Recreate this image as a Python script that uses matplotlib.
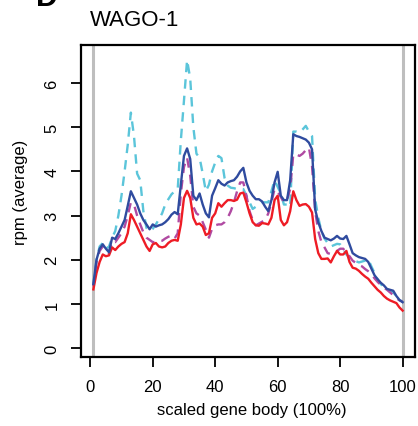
import matplotlib.pyplot as plt
import numpy as np

plt.rcParams['font.family'] = ['Liberation Sans', 'DejaVu Sans']

# scaled gene body position (1..100)
pos = np.arange(1, 101)

# average rpm per sample
blue = [1.45, 2.0, 2.25, 2.35, 2.25, 2.17, 2.5, 2.47, 2.6, 2.75,
        2.9, 3.22, 3.55, 3.4, 3.25, 3.05, 2.9, 2.8, 2.69, 2.8,
        2.75, 2.78, 2.8, 2.85, 2.92, 3.02, 3.08, 3.03, 3.7, 4.35,
        4.52, 4.28, 3.45, 3.35, 3.5, 3.25, 3.05, 2.96, 3.45, 3.62,
        3.8, 3.72, 3.68, 3.75, 3.78, 3.8, 3.88, 4.0, 4.08, 3.75,
        3.56, 3.45, 3.37, 3.37, 3.32, 3.2, 3.1, 3.35, 3.75, 3.99,
        3.45, 3.35, 3.35, 3.8, 4.84, 4.8, 4.78, 4.75, 4.72, 4.65,
        4.5, 3.14, 2.85, 2.65, 2.5, 2.47, 2.44, 2.48, 2.54, 2.48,
        2.47, 2.54, 2.35, 2.15, 2.1, 2.06, 2.04, 2.02, 1.95, 1.8,
        1.65, 1.56, 1.48, 1.42, 1.34, 1.32, 1.3, 1.18, 1.09, 1.04]

red = [1.33, 1.7, 1.95, 2.12, 2.08, 2.1, 2.28, 2.22, 2.3, 2.36,
       2.4, 2.6, 3.03, 2.9, 2.75, 2.6, 2.45, 2.3, 2.2, 2.35,
       2.38, 2.3, 2.28, 2.3, 2.38, 2.43, 2.45, 2.43, 2.8, 3.4,
       3.56, 3.4, 2.95, 2.8, 2.82, 2.75, 2.56, 2.6, 2.95, 3.05,
       3.28, 3.2, 3.28, 3.35, 3.35, 3.33, 3.36, 3.5, 3.52, 3.3,
       3.05, 2.85, 2.78, 2.77, 2.83, 2.82, 2.8, 2.95, 3.35, 3.45,
       2.9, 2.78, 2.85, 3.1, 3.55, 3.35, 3.22, 3.25, 3.26, 3.2,
       3.07, 2.47, 2.15, 2.02, 2.02, 2.03, 1.94, 2.08, 2.2, 2.12,
       2.12, 2.2, 1.95, 1.82, 1.8, 1.75, 1.68, 1.62, 1.57, 1.48,
       1.4, 1.32, 1.26, 1.18, 1.12, 1.08, 1.05, 1.02, 0.92, 0.85]

cyan = [1.45, 2.0, 2.3, 2.38, 2.25, 2.3, 2.5, 2.65, 3.0, 3.45,
        4.0, 4.6, 5.33, 4.8, 3.95, 3.8, 3.1, 2.72, 2.65, 2.7,
        2.8, 2.92, 3.05, 3.25, 3.37, 3.48, 3.55, 3.6, 4.7, 5.6,
        6.52, 6.1, 5.0, 4.4, 4.31, 3.95, 3.55, 3.7, 4.0, 4.2,
        4.35, 4.3, 3.85, 3.68, 3.63, 3.62, 3.6, 3.6, 3.6, 3.45,
        3.3, 3.15, 3.2, 3.25, 3.3, 3.3, 3.3, 3.55, 3.8, 3.65,
        3.5, 3.25, 3.25, 3.2, 4.9, 4.9, 4.88, 4.95, 5.03, 4.9,
        4.8, 3.37, 2.95, 2.65, 2.48, 2.38, 2.3, 2.33, 2.36, 2.35,
        2.25, 2.12, 2.05, 2.0, 1.97, 1.94, 1.96, 1.98, 2.01, 1.85,
        1.7, 1.55, 1.45, 1.38, 1.33, 1.3, 1.26, 1.18, 1.09, 1.05]

magenta = [1.4, 1.95, 2.2, 2.3, 2.2, 2.15, 2.42, 2.4, 2.5, 2.6,
           2.75, 3.0, 3.3, 3.25, 3.0, 2.8, 2.62, 2.5, 2.45, 2.4,
           2.4, 2.42, 2.43, 2.48, 2.52, 2.55, 2.48, 2.6, 3.5, 4.1,
           4.31, 3.9, 3.2, 3.05, 3.0, 2.85, 2.68, 2.5, 2.7, 2.78,
           2.8, 2.8, 2.85, 2.95, 3.1, 3.3, 3.55, 3.75, 3.75, 3.45,
           3.1, 2.9, 2.78, 2.82, 2.86, 2.9, 3.05, 3.3, 3.6, 3.55,
           3.42, 3.3, 3.35, 3.6, 4.39, 4.38, 4.35, 4.4, 4.48, 4.54,
           4.12, 3.1, 2.65, 2.4, 2.28, 2.15, 2.13, 2.16, 2.2, 2.25,
           2.25, 2.15, 2.08, 1.98, 1.93, 1.88, 1.85, 1.79, 1.74, 1.68,
           1.58, 1.5, 1.43, 1.37, 1.32, 1.26, 1.2, 1.13, 1.08, 1.05]

xticks = [0, 20, 40, 60, 80, 100]
yticks = [0, 1, 2, 3, 4, 5, 6]

fig = plt.figure(figsize=(4.18, 4.27), dpi=100)
ax = fig.add_axes([0.1938, 0.1616, 0.799, 0.7307])

# gene body boundaries
ax.axvline(1, color='#bebebe', lw=2.2, zorder=1)
ax.axvline(100, color='#bebebe', lw=2.2, zorder=1)

ax.plot(pos, cyan, color='#5bc5da', lw=1.7, ls=(0, (4, 3)), zorder=2)
ax.plot(pos, magenta, color='#b04aa2', lw=1.7, ls=(0, (4, 3)), zorder=3)
ax.plot(pos, red, color='#ee1c25', lw=1.7, zorder=4)
ax.plot(pos, blue, color='#2f4b9f', lw=1.7, zorder=5)

ax.set_xlim(-2.96, 103.96)
ax.set_ylim(-0.2, 6.86)
ax.set_xticks(xticks)
ax.set_yticks(yticks)
ax.set_yticklabels([str(v) for v in yticks], rotation=90, va='center')
ax.tick_params(direction='out', length=7.5, width=1.3, labelsize=12, colors='black')
ax.tick_params(axis='x', pad=8)
ax.tick_params(axis='y', pad=8)
for s in ax.spines.values():
    s.set_linewidth(1.6)

fig.text(252 / 418, 1 - 411 / 427, 'scaled gene body (100%)', fontsize=12,
         ha='center', va='center')
fig.text(21 / 418, 1 - 192 / 427, 'rpm (average)', fontsize=12,
         rotation=90, ha='center', va='center')

fig.text(0.215, 0.951, 'WAGO-1', fontsize=16, ha='left', va='center')
fig.text(0.085, 1.005, 'D', fontsize=22, fontweight='bold', ha='left', va='center')

fig.savefig('out.png', dpi=100)
